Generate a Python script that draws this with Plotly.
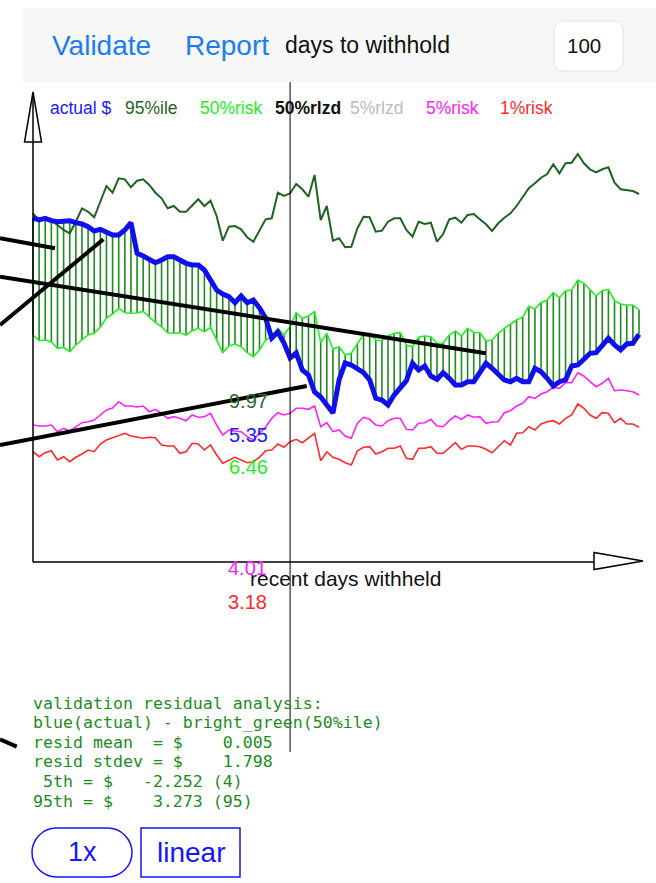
import plotly.graph_objects as go

# ---------------- data (dollars) ----------------
days = list(range(100))

p95 = [34.87, 34.13, 34.47, 34.13, 33.70, 33.20, 32.87, 34.03, 35.37, 35.03,
       34.47, 36.03, 37.60, 36.93, 38.37, 38.27, 37.47, 38.13, 38.27, 37.70,
       36.93, 36.37, 35.37, 35.60, 35.03, 35.03, 35.60, 36.27, 35.60, 36.13,
       34.60, 32.13, 33.53, 33.60, 33.27, 32.47, 32.03, 33.20, 34.27, 34.37,
       36.93, 36.60, 36.87, 37.80, 37.27, 36.53, 38.70, 34.20, 35.60, 32.13,
       32.37, 31.47, 31.53, 33.37, 34.53, 34.47, 33.03, 33.13, 34.03, 34.37,
       34.37, 33.20, 32.53, 34.03, 33.80, 33.93, 32.03, 32.80, 34.27, 34.43,
       33.93, 34.70, 34.80, 34.27, 33.77, 33.10, 33.87, 34.43, 34.87, 35.60,
       36.43, 37.37, 37.87, 38.43, 38.80, 39.77, 38.87, 39.87, 39.93, 40.80,
       39.87, 39.27, 38.97, 39.27, 39.47, 37.93, 37.27, 37.20, 37.10, 36.80]

risk50 = [22.70, 22.13, 22.20, 22.00, 21.37, 21.47, 21.03, 21.70, 22.20, 22.70,
          22.87, 23.50, 24.40, 24.80, 25.37, 24.93, 24.87, 24.90, 25.05, 24.50,
          23.93, 23.53, 22.93, 22.87, 22.93, 22.70, 23.13, 23.37, 23.03, 23.47,
          22.20, 20.93, 21.60, 21.80, 21.53, 20.93, 20.53, 21.20, 22.20, 22.53,
          23.37, 22.70, 23.53, 24.93, 24.37, 24.60, 25.03, 21.93, 22.87, 21.27,
          21.53, 20.70, 20.87, 21.87, 22.77, 22.87, 22.20, 22.13, 22.60, 22.87,
          22.93, 21.70, 21.53, 22.47, 22.60, 22.53, 21.87, 21.90, 22.70, 23.10,
          22.60, 23.37, 22.97, 22.93, 22.13, 22.20, 22.87, 23.37, 23.80, 24.20,
          24.50, 25.57, 25.30, 25.95, 26.20, 26.93, 26.43, 27.10, 27.20, 28.20,
          27.87, 27.20, 26.60, 27.13, 27.27, 26.13, 25.80, 25.70, 25.70, 25.20]

actual = [34.40, 34.20, 34.37, 34.13, 34.03, 34.03, 34.13, 33.93, 33.80, 33.53,
          33.10, 33.27, 33.03, 32.70, 32.70, 33.20, 33.93, 30.87, 30.60, 30.20,
          29.93, 30.20, 30.53, 30.53, 30.13, 29.87, 29.70, 29.70, 29.20, 28.20,
          27.20, 26.80, 26.53, 25.93, 26.60, 25.93, 26.20, 25.40, 24.40, 22.40,
          23.00, 21.90, 20.40, 20.90, 19.20, 18.70, 17.00, 16.50, 15.70, 14.90,
          18.20, 19.90, 19.70, 19.37, 18.93, 18.20, 16.37, 16.20, 15.70, 16.70,
          17.37, 18.13, 19.87, 19.20, 19.60, 18.60, 18.27, 18.93, 18.37, 17.70,
          17.70, 18.03, 18.03, 19.03, 19.87, 19.37, 18.70, 18.20, 18.03, 18.37,
          18.03, 18.03, 19.37, 19.03, 18.37, 17.60, 18.03, 18.20, 19.60, 19.70,
          20.27, 20.87, 20.93, 21.70, 22.37, 21.70, 21.20, 21.80, 21.87, 22.77]

risk5 = [13.70, 13.60, 13.60, 13.70, 13.03, 13.37, 13.10, 13.53, 13.93, 14.03,
         14.20, 14.70, 15.20, 15.40, 16.03, 15.60, 15.60, 15.50, 15.60, 15.03,
         15.27, 14.87, 14.37, 14.53, 14.37, 14.13, 14.70, 14.47, 14.53, 14.87,
         13.70, 12.70, 13.20, 13.10, 13.03, 12.53, 12.20, 12.87, 13.47, 14.37,
         14.93, 14.70, 14.87, 15.37, 15.37, 15.27, 15.60, 13.53, 13.93, 13.03,
         13.20, 12.60, 12.37, 13.87, 14.47, 14.27, 13.70, 13.60, 14.13, 14.37,
         14.37, 13.27, 13.20, 13.87, 13.93, 14.27, 13.60, 13.53, 14.13, 14.60,
         14.27, 14.70, 14.47, 14.53, 13.87, 14.00, 14.03, 14.93, 15.13, 15.60,
         15.87, 16.53, 16.37, 16.80, 17.03, 17.47, 17.37, 17.93, 17.93, 18.93,
         18.60, 18.03, 17.53, 17.87, 18.37, 17.13, 17.20, 17.13, 17.03, 16.70]

risk1 = [11.03, 10.53, 10.93, 11.13, 10.20, 10.53, 10.03, 10.47, 10.80, 11.20,
         11.03, 11.80, 12.20, 12.43, 12.60, 12.87, 12.60, 12.47, 12.37, 12.47,
         12.43, 11.70, 11.60, 11.60, 10.87, 11.03, 11.87, 11.80, 11.20, 11.70,
         10.70, 9.87, 10.20, 10.47, 10.20, 9.93, 10.03, 10.47, 11.13, 11.20,
         11.80, 11.47, 12.03, 12.27, 11.93, 12.37, 12.87, 10.13, 11.00, 10.47,
         10.27, 9.93, 9.70, 11.13, 11.47, 11.53, 10.80, 11.03, 11.37, 11.37,
         11.60, 10.37, 10.27, 11.37, 11.37, 11.53, 10.87, 10.87, 11.37, 11.93,
         11.27, 11.60, 11.60, 11.53, 11.27, 10.93, 11.53, 12.13, 11.70, 12.87,
         12.93, 13.53, 13.20, 13.80, 14.03, 14.13, 13.80, 14.37, 14.70, 15.80,
         15.37, 14.70, 14.37, 14.93, 14.87, 13.93, 14.37, 13.80, 13.80, 13.47]

split_day = 42  # vertical marker: start of withheld days

# trend segments (start/end in day / dollar units)
trend_x_start = [-5.39, -5.39, -5.39, -5.39, -5.39]
trend_y_start = [32.37, 23.70, 28.53, 11.70, -17.73]
trend_x_end = [3.59, 11.49, 73.96, 44.71, -2.66]
trend_y_end = [31.37, 32.27, 20.87, 17.60, -18.47]

legend_labels = ["actual $", "95%ile", "50%risk", "<b>50%rlzd</b>", "5%rlzd", "5%risk", "1%risk"]
legend_colors = ["#1a1aff", "#1e6420", "#22ee22", "#111111", "#bbbbbb", "#ff22ff", "#ff2a2a"]

value_labels = ["9.97", "5.35", "6.46", "4.01", "3.18"]
value_colors = ["#2a6a2a", "#1a1aff", "#22ee22", "#ff22ff", "#ff2a2a"]

stats_lines = [
    "validation residual analysis:",
    "blue(actual) - bright_green(50%ile)",
    "resid mean  = $    0.005",
    "resid stdev = $    1.798",
    " 5th = $   -2.252 (4)",
    "95th = $    3.273 (95)",
]

# ---------------- geometry helpers (pixel -> axis units) ----------------
W, H = 656, 883
X0, X1 = 33, 639
DX = (X1 - X0) / 99.0
Y0, SY = 562, 10.0


def ux(p):
    return (p - X0) / DX


def uy(p):
    return (Y0 - p) / SY


def P(x, y):
    return f"{ux(x):.4f},{uy(y):.4f}"


def rrect(x0, y0, x1, y1, r):
    k = 0.5523 * r
    return (f"M {P(x0 + r, y0)} L {P(x1 - r, y0)} "
            f"C {P(x1 - r + k, y0)} {P(x1, y0 + r - k)} {P(x1, y0 + r)} "
            f"L {P(x1, y1 - r)} "
            f"C {P(x1, y1 - r + k)} {P(x1 - r + k, y1)} {P(x1 - r, y1)} "
            f"L {P(x0 + r, y1)} "
            f"C {P(x0 + r - k, y1)} {P(x0, y1 - r + k)} {P(x0, y1 - r)} "
            f"L {P(x0, y0 + r)} "
            f"C {P(x0, y0 + r - k)} {P(x0 + r - k, y0)} {P(x0 + r, y0)} Z")


fig = go.Figure()

# hatching between actual and 50%risk
hx, hy = [], []
for d, a, m in zip(days, actual, risk50):
    hx += [d, d, None]
    hy += [a, m, None]
fig.add_trace(go.Scatter(x=hx, y=hy, mode="lines",
                         line=dict(color="#1f8a1f", width=1.6), hoverinfo="skip"))

fig.add_trace(go.Scatter(x=days, y=risk50, mode="lines", line=dict(color="#22f022", width=1.6)))
fig.add_trace(go.Scatter(x=days, y=p95, mode="lines", line=dict(color="#1e6420", width=2)))
fig.add_trace(go.Scatter(x=days, y=risk5, mode="lines", line=dict(color="#ff22ff", width=1.6)))
fig.add_trace(go.Scatter(x=days, y=risk1, mode="lines", line=dict(color="#ff2a2a", width=1.6)))
fig.add_trace(go.Scatter(x=days, y=actual, mode="lines", line=dict(color="#1010ee", width=5)))

for xs, ys, xe, ye in zip(trend_x_start, trend_y_start, trend_x_end, trend_y_end):
    fig.add_trace(go.Scatter(x=[xs, xe], y=[ys, ye], mode="lines",
                             line=dict(color="black", width=4)))

shapes = []
# top bar
shapes.append(dict(type="rect", x0=ux(23), x1=ux(660), y0=uy(8), y1=uy(82),
                   fillcolor="#f7f7f7", line=dict(width=0), layer="below"))
shapes.append(dict(type="path", path=rrect(554, 21, 623, 71, 9),
                   fillcolor="white", line=dict(color="#e2e2e2", width=1), layer="below"))
# axes
shapes.append(dict(type="line", x0=days[0], x1=days[0], y0=0, y1=uy(93),
                   line=dict(color="black", width=1.5)))
shapes.append(dict(type="path", path=f"M {P(33, 92)} L {P(24.5, 142)} L {P(41.5, 142)} Z",
                   line=dict(color="black", width=1.5)))
shapes.append(dict(type="line", x0=days[0], x1=ux(594), y0=0, y1=0,
                   line=dict(color="black", width=1.5)))
shapes.append(dict(type="path", path=f"M {P(594, 552.5)} L {P(643, 561)} L {P(594, 569.5)} Z",
                   line=dict(color="black", width=1.5)))
# withheld split marker
shapes.append(dict(type="line", x0=split_day, x1=split_day, y0=uy(82), y1=uy(752),
                   line=dict(color="black", width=1)))
# buttons
shapes.append(dict(type="path", path=rrect(32, 828, 132, 877, 24.5),
                   line=dict(color="#1414ff", width=1.5)))
shapes.append(dict(type="rect", x0=ux(141), x1=ux(240), y0=uy(828), y1=uy(877),
                   line=dict(color="#1414ff", width=1.5)))

ann = []
SANS = "Liberation Sans, Arial, sans-serif"


def text(x, y, s, color, size, anchor="left", family=SANS):
    ann.append(dict(x=ux(x), y=uy(y), text=s, showarrow=False, xanchor=anchor,
                    yanchor="middle", font=dict(color=color, size=size, family=family)))


text(50, 45, "Validate", "#1a7df5", 28)
text(183, 45, "Report", "#1a7df5", 28)
text(283, 45, "days to withhold", "#111111", 23)
text(565, 45, "100", "#111111", 20.5)

leg_x = [48, 123, 198, 273, 348, 424, 498]
for lx, lab, col in zip(leg_x, legend_labels, legend_colors):
    text(lx, 108, lab, col, 17.5)

val_pos = [(227, 401), (227, 435), (227, 467), (226, 568), (226, 602)]
for (vx, vy), lab, col in zip(val_pos, value_labels, value_colors):
    text(vx, vy, lab, col, 20)

text(248, 578, "recent days withheld", "#111111", 21)

for i, line in enumerate(stats_lines):
    text(31, 703 + i * 19.6, line.replace(" ", "\u00a0"), "#1e8c1e", 16.6,
         family="DejaVu Sans Mono, monospace")

text(82, 852, "1x", "#1414ff", 27, anchor="center")
text(190.5, 852, "linear", "#1414ff", 28, anchor="center")

fig.update_layout(
    width=W, height=H, margin=dict(l=0, r=0, t=0, b=0),
    paper_bgcolor="white", plot_bgcolor="white", showlegend=False,
    xaxis=dict(range=[ux(0), ux(W)], visible=False, fixedrange=True),
    yaxis=dict(range=[uy(H), uy(0)], visible=False, fixedrange=True),
    shapes=shapes, annotations=ann,
)

fig.write_html("out.html", config=dict(displayModeBar=False),
               post_script="document.body.style.margin='0';document.body.style.overflow='hidden';")
